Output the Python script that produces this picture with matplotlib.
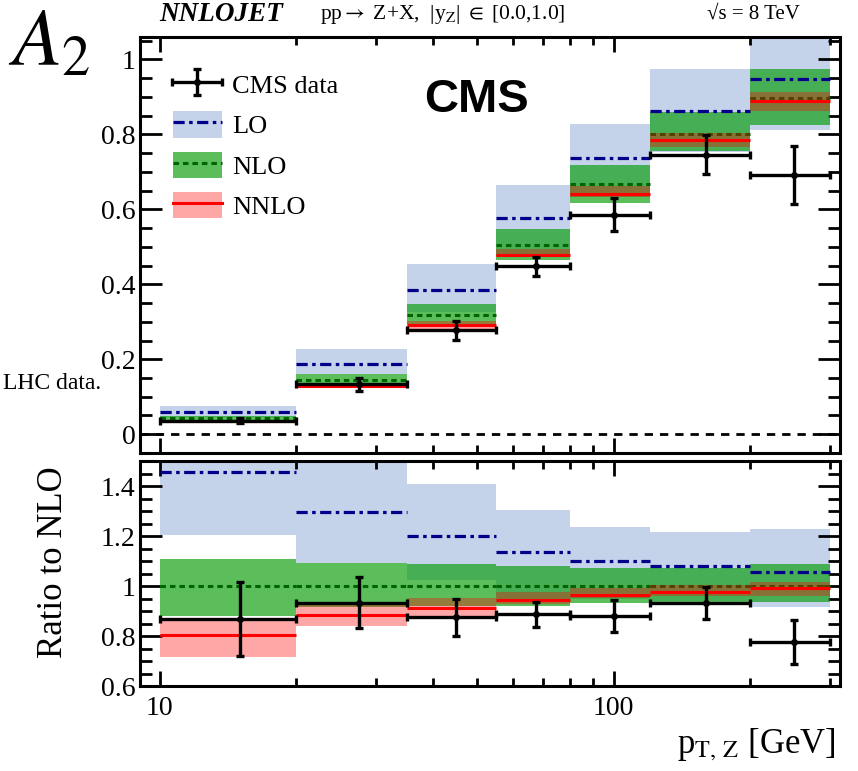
import numpy as np
import matplotlib.pyplot as plt
import matplotlib.ticker as ticker
from matplotlib.patches import Patch
from matplotlib.lines import Line2D
from matplotlib.legend_handler import HandlerErrorbar

plt.rcParams['font.family'] = ['Liberation Serif', 'DejaVu Serif']
plt.rcParams['mathtext.fontset'] = 'stix'

# bins in pT,Z [GeV] and CMS points
edges = [10, 20, 35, 55, 80, 120, 200, 300]
data_x = [15, 27.5, 45, 67.5, 100, 160, 250]

# upper panel: A2
data_y = [0.0365, 0.133, 0.277, 0.448, 0.586, 0.746, 0.692]
data_err = [0.0065, 0.018, 0.026, 0.026, 0.043, 0.052, 0.078]
lo_c = [0.060, 0.188, 0.384, 0.578, 0.737, 0.863, 0.948]
lo_dn = [0.047, 0.160, 0.325, 0.473, 0.633, 0.752, 0.812]
lo_up = [0.075, 0.227, 0.453, 0.664, 0.827, 0.975, 1.10]
nlo_c = [0.043, 0.146, 0.317, 0.506, 0.667, 0.800, 0.897]
nlo_dn = [0.038, 0.134, 0.293, 0.466, 0.618, 0.755, 0.824]
nlo_up = [0.048, 0.160, 0.348, 0.547, 0.717, 0.860, 0.975]
nnlo_c = [0.034, 0.129, 0.291, 0.477, 0.640, 0.784, 0.888]
nnlo_dn = [0.031, 0.123, 0.282, 0.472, 0.634, 0.766, 0.863]
nnlo_up = [0.037, 0.135, 0.301, 0.494, 0.661, 0.805, 0.914]

# lower panel: ratio to NLO
r_data = [0.867, 0.933, 0.875, 0.888, 0.880, 0.933, 0.775]
r_data_dn = [0.720, 0.831, 0.800, 0.837, 0.817, 0.867, 0.688]
r_data_up = [1.017, 1.035, 0.948, 0.937, 0.944, 0.995, 0.864]
r_lo_c = [1.457, 1.295, 1.201, 1.137, 1.100, 1.080, 1.056]
r_lo_dn = [1.204, 1.093, 1.024, 0.935, 0.949, 0.940, 0.915]
r_lo_up = [1.74, 1.555, 1.408, 1.304, 1.235, 1.216, 1.228]
r_nlo_c = [1, 1, 1, 1, 1, 1, 1]
r_nlo_dn = [0.881, 0.917, 0.921, 0.921, 0.931, 0.937, 0.937]
r_nlo_up = [1.110, 1.093, 1.088, 1.080, 1.071, 1.071, 1.087]
r_nnlo_c = [0.804, 0.884, 0.913, 0.944, 0.964, 0.977, 0.991]
r_nnlo_dn = [0.715, 0.841, 0.881, 0.930, 0.951, 0.960, 0.961]
r_nnlo_up = [0.861, 0.928, 0.951, 0.975, 0.991, 1.004, 1.017]

LO_BAND = '#c4d2ea'
LO_LINE = '#00008b'
NLO_BAND = '#039b03'
NLO_LINE = '#006400'
NNLO_COL = '#ff0000'
LO_DASH = (0, (3.5, 1.4, 1.1, 1.4))
NLO_DASH = (0, (1.8, 1.3))


def band(ax, dn, up, **kw):
    left = np.array(edges[:-1])
    width = np.diff(edges)
    ax.bar(left, np.array(up) - np.array(dn), width=width, bottom=dn,
           align='edge', linewidth=0, **kw)


def draw(ax, lo, nlo, nnlo, dat):
    band(ax, lo[1], lo[2], color=LO_BAND, zorder=1)
    band(ax, nlo[1], nlo[2], color=NLO_BAND, alpha=0.65, zorder=2)
    ax.hlines(lo[0], edges[:-1], edges[1:], colors=LO_LINE, lw=2.3,
              linestyles=[LO_DASH], zorder=3)
    ax.hlines(nlo[0], edges[:-1], edges[1:], colors=NLO_LINE, lw=2.2,
              linestyles=[NLO_DASH], zorder=3)
    band(ax, nnlo[1], nnlo[2], color=NNLO_COL, alpha=0.35, zorder=4)
    ax.hlines(nnlo[0], edges[:-1], edges[1:], colors=NNLO_COL, lw=2.2,
              zorder=5)
    x = np.array(data_x)
    xerr = [x - np.array(edges[:-1]), np.array(edges[1:]) - x]
    return ax.errorbar(x, dat[0], xerr=xerr, yerr=dat[1], fmt='o', ms=4,
                       color='k', elinewidth=2.4, capsize=3, capthick=2.4,
                       zorder=6)


def style(ax, ylim, major, minor):
    ax.set_xscale('log')
    ax.set_xlim(9.05, 315)
    ax.set_ylim(*ylim)
    ax.xaxis.set_major_locator(ticker.LogLocator(base=10))
    ax.xaxis.set_minor_locator(ticker.LogLocator(base=10, subs=np.arange(2, 10)))
    ax.xaxis.set_minor_formatter(ticker.NullFormatter())
    ax.xaxis.set_major_formatter(ticker.FuncFormatter(lambda v, p: '%g' % v))
    ax.yaxis.set_major_locator(ticker.MultipleLocator(major))
    ax.yaxis.set_minor_locator(ticker.MultipleLocator(minor))
    ax.yaxis.set_major_formatter(ticker.FuncFormatter(lambda v, p: '%g' % round(v, 2)))
    ax.tick_params(which='both', direction='in', top=True, right=True,
                   labelsize=20, width=2)
    ax.tick_params(axis='y', which='major', length=16, pad=3)
    ax.tick_params(axis='y', which='minor', length=8.5)
    ax.tick_params(axis='x', which='major', length=11, pad=7)
    ax.tick_params(axis='x', which='minor', length=6)
    for s in ax.spines.values():
        s.set_linewidth(2.2)


fig = plt.figure(figsize=(8.58, 7.71), dpi=100)
ax1 = fig.add_axes([0.163, 0.4125, 0.816, 0.5396])
ax2 = fig.add_axes([0.163, 0.1102, 0.816, 0.2918])

eb = draw(ax1, (lo_c, lo_dn, lo_up), (nlo_c, nlo_dn, nlo_up),
          (nnlo_c, nnlo_dn, nnlo_up), (data_y, data_err))
ax1.axhline(0, color='k', lw=2, ls=(0, (3, 2.5)), zorder=1)
style(ax1, (-0.05, 1.06), 0.2, 0.05)
ax1.tick_params(axis='x', labelbottom=False)

r_err = [np.array(r_data) - np.array(r_data_dn), np.array(r_data_up) - np.array(r_data)]
draw(ax2, (r_lo_c, r_lo_dn, r_lo_up), (r_nlo_c, r_nlo_dn, r_nlo_up),
     (r_nnlo_c, r_nnlo_dn, r_nnlo_up), (r_data, r_err))
style(ax2, (0.6, 1.5), 0.2, 0.05)

handles = [
    eb,
    (Patch(color=LO_BAND, lw=0), Line2D([], [], color=LO_LINE, lw=2.3, ls=LO_DASH)),
    (Patch(color=NLO_BAND, alpha=0.65, lw=0), Line2D([], [], color=NLO_LINE, lw=2.2, ls=NLO_DASH)),
    (Patch(color=NNLO_COL, alpha=0.35, lw=0), Line2D([], [], color=NNLO_COL, lw=2.2)),
]
ax1.legend(handles, ['CMS data', 'LO', 'NLO', 'NNLO'], loc='upper left',
           bbox_to_anchor=(0.013, 0.975), frameon=False, fontsize=19,
           handlelength=1.85, handleheight=1.15, labelspacing=0.5,
           handletextpad=0.4,
           handler_map={type(eb): HandlerErrorbar(xerr_size=0.95, yerr_size=0.5)})

fig.text(0.555, 0.870, 'CMS', family='Liberation Sans', weight='bold',
         fontsize=34, ha='center', va='center')
fig.text(0.186, 0.981, 'NNLOJET', weight='bold', style='italic', fontsize=19.5,
         va='center')
fig.text(0.373, 0.981, r'pp$\rightarrow$ Z+X,  |y$_{\rm Z}$| $\in$ [0.0,1.0]',
         fontsize=15.5, va='center')
fig.text(0.824, 0.981, '√s = 8 TeV', fontsize=15, va='center')
fig.text(0.009, 0.988, r'$A_2$', fontsize=58, va='top')
fig.text(0.004, 0.503, 'LHC data.', fontsize=17, va='center')
fig.text(0.062, 0.271, 'Ratio to NLO', fontsize=25, rotation=90,
         ha='center', va='center')
fig.text(0.974, 0.034, r'p$_{\rm T,\,Z}$ [GeV]', fontsize=25, ha='right',
         va='center')

fig.savefig('out.png', dpi=100)
